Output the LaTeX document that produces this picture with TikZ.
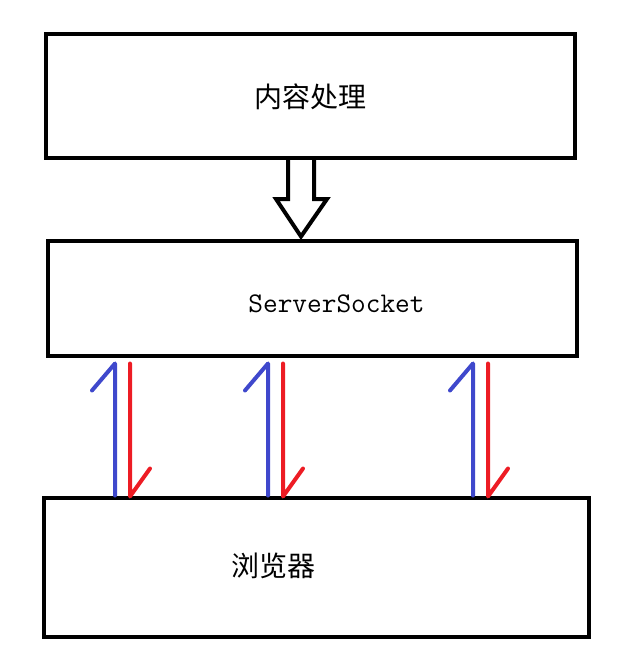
\documentclass[tikz,border=0pt]{standalone}
\usepackage{fontspec}
\newfontfamily\cjk{Noto Sans CJK SC}
\usetikzlibrary{calc}
\definecolor{pblue}{RGB}{63,72,204}
\definecolor{pred}{RGB}{237,28,36}
\tikzstyle{box} = [rectangle, draw, line width=4pt, inner sep=0pt]
\tikzstyle{label} = [inner sep=0pt, font=\fontsize{28}{30}\selectfont]
\tikzset{half/.style = {
    line width=4pt,
    line cap=round,
    line join=round,
  }
}

\begin{document}
\begin{tikzpicture}[x=1pt, y=-1pt]
            \useasboundingbox (0,0) rectangle (631,666);
            % boxes
            \node[box, minimum width=529pt, minimum height=124pt] (proc) at (310.5,96) {};
            \node[box, minimum width=529pt, minimum height=115pt] (sock) at (312.5,298) {};
            \node[box, minimum width=545pt, minimum height=139pt] (brow) at (316,567) {};
            
            % texts
            \node[label] (proctxt) at (310,97) {\cjk 内容处理};
            \node[label, font=\ttfamily\fontsize{28.5}{30}\selectfont] (socktxt) at (336.5,304) {ServerSocket};
            \node[label] (browtxt) at (273,566) {\cjk 浏览器};
            
            % big arrow
            \coordinate (tip) at (301,0);
            \draw[line width=4pt, line join=miter]
              ($(proc.south)+(-22.5,0)$) -- ($(proc.south)+(-22.5,39)$) -- ($(proc.south)+(-34.5,39)$)
              -- ($(sock.north -| tip)+(0,-2)$) -- ($(proc.south)+(16.5,39)$) -- ($(proc.south)+(3.5,39)$)
              -- ($(proc.south)+(3.5,0)$);
            
            % requests and answers
            \foreach \x in {115,268,473} {
              \coordinate (c\x) at (\x,0);
              \draw[half, pblue] (brow.north -| c\x) -- ($(sock.south -| c\x)+(0,6)$) -- ++(-23,27);
              \draw[half, pred] ($(sock.south -| c\x)+(15,6)$) -- ($(brow.north -| c\x)+(15,1)$) -- ++(20,-28);
            }
            
\end{tikzpicture}
\end{document}
